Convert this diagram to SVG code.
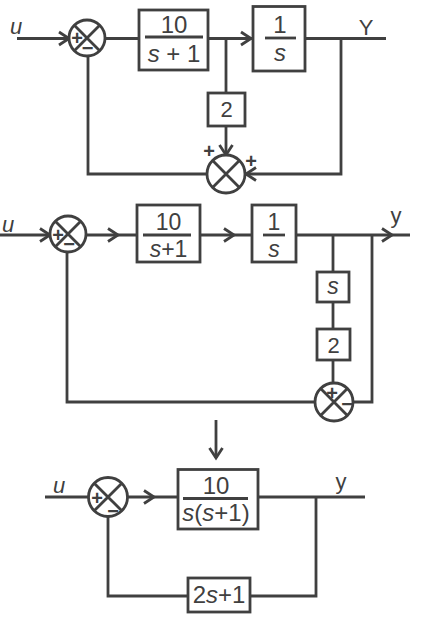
<svg xmlns="http://www.w3.org/2000/svg" xmlns:xlink="http://www.w3.org/1999/xlink" width="424" height="623" viewBox="0 0 424 623">
<style>
.ln{stroke:#404040;stroke-width:2.8;fill:none;stroke-linecap:butt}
.box{fill:#fff;stroke:#404040;stroke-width:2.8}
.sum{fill:#fff;stroke:#404040;stroke-width:2.8}
.t{font-family:"Liberation Sans",Arial,sans-serif;fill:#404040;text-anchor:middle}
.i{font-style:italic}
.sg{font-family:"Liberation Sans",Arial,sans-serif;fill:#404040;text-anchor:middle;font-size:20px;font-weight:bold}
</style>
<defs>
<path id="chev" d="M-10,-6.5 L0,0 L-10,6.5" class="ln"/>
</defs>
<rect width="424" height="623" fill="#fff"/>

<g id="connectors">
<!-- diagram 1 -->
<path class="ln" d="M17,38.5 H69"/>
<use xlink:href="#chev" transform="translate(69,38.5)"/>
<path class="ln" d="M105,38.5 H139"/>
<path class="ln" d="M208,38.5 H253"/>
<use xlink:href="#chev" transform="translate(251,38.5)"/>
<path class="ln" d="M226,38.5 V93"/>
<path class="ln" d="M226,126 V155"/>
<use xlink:href="#chev" transform="translate(226,155) rotate(90)"/>
<path class="ln" d="M305,38.5 H386"/>
<path class="ln" d="M341,38.5 V174 H246"/>
<use xlink:href="#chev" transform="translate(246,174) rotate(180)"/>
<path class="ln" d="M207,174 H88 V56"/>
<!-- diagram 2 -->
<path class="ln" d="M0,235 H50"/>
<use xlink:href="#chev" transform="translate(50,235)"/>
<path class="ln" d="M86,235 H137"/>
<use xlink:href="#chev" transform="translate(118,235)"/>
<path class="ln" d="M200,235 H252"/>
<use xlink:href="#chev" transform="translate(234,235)"/>
<path class="ln" d="M296,235 H410"/>
<use xlink:href="#chev" transform="translate(392,235)"/>
<path class="ln" d="M333,235 V272"/>
<path class="ln" d="M333,302 V329"/>
<path class="ln" d="M333,360 V383"/>
<path class="ln" d="M372,235 V402 H353"/>
<path class="ln" d="M315,402 H67 V252"/>
<!-- transform arrow -->
<path class="ln" d="M216,420 V458"/>
<use xlink:href="#chev" transform="translate(216,458) rotate(90)"/>
<!-- diagram 3 -->
<path class="ln" d="M45,497 H88"/>
<path class="ln" d="M128,497 H178"/>
<use xlink:href="#chev" transform="translate(154,497)"/>
<path class="ln" d="M258,497 H365"/>
<path class="ln" d="M316,497 V596 H250"/>
<path class="ln" d="M188,596 H108 V517"/>
</g>

<!-- diagram 1 nodes -->
<g id="sum1">
<circle class="sum" cx="87" cy="38" r="18"/>
<path class="ln" d="M74.3,25.3 L99.7,50.7 M99.7,25.3 L74.3,50.7"/>
<text class="sg" x="77" y="45">+</text>
<text class="sg" x="87.5" y="55">−</text>
</g>
<g id="block1">
<rect class="box" x="139" y="10" width="69" height="60"/>
<path class="ln" d="M145,37 H203"/>
<text class="t" x="174" y="33" font-size="24">10</text>
<text class="t" x="174" y="62" font-size="24"><tspan class="i">s</tspan> + 1</text>
</g>
<g id="block2">
<rect class="box" x="208" y="93" width="37" height="33"/>
<text class="t" x="226.5" y="117" font-size="22">2</text>
</g>
<g id="block3">
<rect class="box" x="253" y="6.5" width="52" height="64.5"/>
<path class="ln" d="M265,38 H296"/>
<text class="t" x="280" y="33" font-size="24">1</text>
<text class="t i" x="280" y="61" font-size="24">s</text>
</g>
<g id="sum2">
<circle class="sum" cx="226" cy="174" r="19"/>
<path class="ln" d="M212.6,160.6 L239.4,187.4 M239.4,160.6 L212.6,187.4"/>
<text class="sg" x="209" y="158">+</text>
<text class="sg" x="251" y="168">+</text>
</g>
<g id="label-u1"><text class="t i" x="16" y="34" font-size="22">u</text></g>
<g id="label-Y"><text class="t" x="366" y="35" font-size="22">Y</text></g>

<!-- diagram 2 nodes -->
<g id="sum3">
<circle class="sum" cx="68" cy="234" r="18"/>
<path class="ln" d="M55.3,221.3 L80.7,246.7 M80.7,221.3 L55.3,246.7"/>
<text class="sg" x="58" y="242">+</text>
<text class="sg" x="69" y="251">−</text>
</g>
<g id="block4">
<rect class="box" x="137" y="205" width="63" height="57"/>
<path class="ln" d="M143,235 H191"/>
<text class="t" x="168.5" y="230" font-size="23">10</text>
<text class="t" x="168.5" y="257" font-size="23"><tspan class="i">s</tspan>+1</text>
</g>
<g id="block5">
<rect class="box" x="252" y="205" width="44" height="57"/>
<path class="ln" d="M263,235 H285"/>
<text class="t" x="274" y="230" font-size="23">1</text>
<text class="t i" x="274" y="257" font-size="23">s</text>
</g>
<g id="block6">
<rect class="box" x="317" y="272" width="32" height="30"/>
<text class="t i" x="333" y="294" font-size="23">s</text>
</g>
<g id="block7">
<rect class="box" x="317" y="329" width="33" height="31"/>
<text class="t" x="333.5" y="353" font-size="22">2</text>
</g>
<g id="sum4">
<circle class="sum" cx="334" cy="402" r="19"/>
<path class="ln" d="M320.6,388.6 L347.4,415.4 M347.4,388.6 L320.6,415.4"/>
<text class="sg" x="332" y="400">+</text>
<text class="sg" x="347" y="411">−</text>
</g>
<g id="label-u2"><text class="t i" x="8" y="232" font-size="22">u</text></g>
<g id="label-y2"><text class="t" x="396" y="223" font-size="22">y</text></g>

<!-- diagram 3 nodes -->
<g id="sum5">
<circle class="sum" cx="108" cy="497" r="19.5"/>
<path class="ln" d="M94.2,483.2 L121.8,510.8 M121.8,483.2 L94.2,510.8"/>
<text class="sg" x="97" y="505">+</text>
<text class="sg" x="113" y="518">−</text>
</g>
<g id="block8">
<rect class="box" x="178" y="469.5" width="80" height="59.5"/>
<path class="ln" d="M183,498.5 H248"/>
<text class="t" x="216" y="494" font-size="24">10</text>
<text class="t" x="216" y="521" font-size="24"><tspan class="i">s</tspan>(<tspan class="i">s</tspan>+1)</text>
</g>
<g id="block9">
<rect class="box" x="188" y="578" width="62" height="34"/>
<text class="t" x="219" y="603" font-size="24">2<tspan class="i">s</tspan>+1</text>
</g>
<g id="label-u3"><text class="t i" x="59" y="493" font-size="22">u</text></g>
<g id="label-y3"><text class="t" x="341" y="489" font-size="22">y</text></g>
</svg>
